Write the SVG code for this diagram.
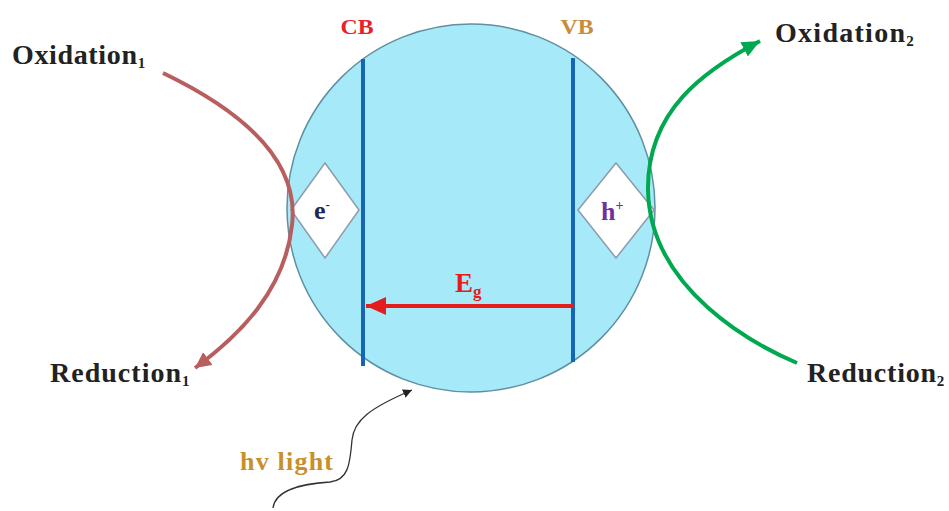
<svg xmlns="http://www.w3.org/2000/svg" width="949" height="511" viewBox="0 0 949 511">
<style>
text{font-family:"Liberation Serif","Times New Roman",serif;font-weight:bold}
.lbl{font-size:28px;fill:#222}
.sub{font-size:15px}
.band{stroke:#1466b4;stroke-width:4;fill:none}
.diam{fill:#ffffff;stroke:#8c9cac;stroke-width:1.5}
</style>
<defs>
<marker id="mRed" markerUnits="userSpaceOnUse" markerWidth="20" markerHeight="20" refX="16" refY="8" orient="auto"><path d="M0,0 L16,8 L0,16 Z" fill="#b85e5e"/></marker>
<marker id="mGreen" markerUnits="userSpaceOnUse" markerWidth="22" markerHeight="20" refX="18" refY="8" orient="auto"><path d="M0,0 L18,8 L0,16 Z" fill="#00a84f"/></marker>
<marker id="mEg" markerUnits="userSpaceOnUse" markerWidth="22" markerHeight="20" refX="20" refY="9" orient="auto"><path d="M0,0 L20,9 L0,18 Z" fill="#e41c1c"/></marker>
<marker id="mBlk" markerUnits="userSpaceOnUse" markerWidth="12" markerHeight="12" refX="9" refY="4.5" orient="auto"><path d="M0,0 L9,4.5 L0,9 Z" fill="#222"/></marker>
</defs>
<g id="particle">
<circle cx="471" cy="208" r="184" fill="#a6eaf9" stroke="#5f8fa0" stroke-width="1.5"/>
<line class="band" x1="363" y1="59" x2="363" y2="366"/>
<line class="band" x1="573" y1="58" x2="573" y2="362"/>
</g>
<g id="cb-label"><text x="357" y="34" text-anchor="middle" font-size="22" fill="#e8202c" textLength="33" lengthAdjust="spacingAndGlyphs">CB</text></g>
<g id="vb-label"><text x="577" y="34" text-anchor="middle" font-size="22" fill="#c98c3c" textLength="33" lengthAdjust="spacingAndGlyphs">VB</text></g>
<g id="electron">
<path class="diam" d="M325,163 L359,210 L325,258 L291,210 Z"/>
<text x="314" y="219" font-size="26" fill="#1c2a58">e<tspan font-size="13" dy="-10">-</tspan></text>
</g>
<g id="hole">
<path class="diam" d="M616,163 L654,210 L616,258 L578,210 Z"/>
<text x="601" y="220" font-size="26" fill="#7030a0">h<tspan font-size="14" dy="-10">+</tspan></text>
</g>
<g id="connectors">
<path d="M163,73 C240,110 300,160 292,225 C285,290 240,335 195,368" fill="none" stroke="#b85e5e" stroke-width="4" marker-end="url(#mRed)"/>
<path d="M797,363 C755,345 650,290 648,190 C647,110 705,70 760,41" fill="none" stroke="#00a84f" stroke-width="4" marker-end="url(#mGreen)"/>
<line x1="573" y1="306" x2="366" y2="306" stroke="#e41c1c" stroke-width="4" marker-end="url(#mEg)"/>
<path d="M273,508 C275,490 300,484 330,482 C348,480 350,465 352,440 C354,420 370,408 412,390" fill="none" stroke="#333" stroke-width="1.3" marker-end="url(#mBlk)"/>
</g>
<g id="eg-label"><text x="455" y="292" font-size="27" fill="#e41c1c">E<tspan font-size="17" dy="5">g</tspan></text></g>
<g id="oxidation1"><text class="lbl" x="12" y="64"><tspan textLength="125" lengthAdjust="spacing">Oxidation</tspan><tspan class="sub" dy="4">1</tspan></text></g>
<g id="reduction1"><text class="lbl" x="50" y="382"><tspan textLength="131" lengthAdjust="spacing">Reduction</tspan><tspan class="sub" dy="4">1</tspan></text></g>
<g id="oxidation2"><text class="lbl" x="775" y="42"><tspan textLength="130" lengthAdjust="spacing">Oxidation</tspan><tspan class="sub" dy="4">2</tspan></text></g>
<g id="reduction2"><text class="lbl" x="807" y="382"><tspan textLength="129" lengthAdjust="spacing">Reduction</tspan><tspan class="sub" dy="4">2</tspan></text></g>
<g id="hv-light"><text x="240" y="470" font-size="26" fill="#c8902c" textLength="93" lengthAdjust="spacing">hv light</text></g>
</svg>
